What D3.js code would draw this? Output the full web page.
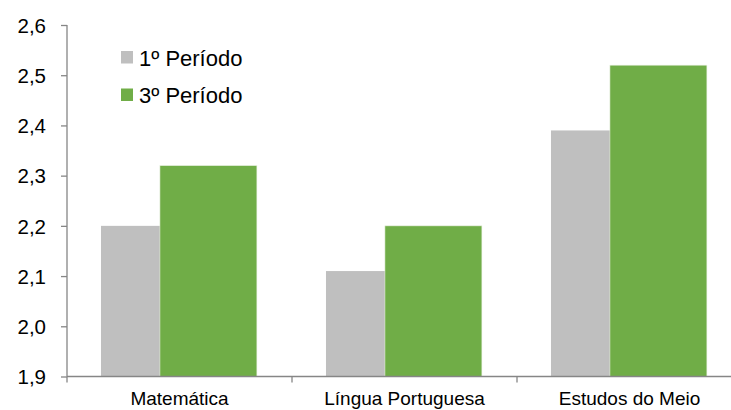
<!DOCTYPE html>
<html>
<head>
<meta charset="utf-8">
<script src="https://cdn.jsdelivr.net/npm/d3@7"></script>
<style>
body { margin: 0; background: #fff; }
svg text { font-family: "Liberation Sans", Arial, sans-serif; fill: #000; }
</style>
</head>
<body>
<svg class="chart" width="731" height="410"></svg>
<script>
// data
var categories = ["Matemática", "Língua Portuguesa", "Estudos do Meio"];
var series = ["1º Período", "3º Período"];
var periodo1 = [2.20, 2.11, 2.39];
var periodo3 = [2.32, 2.20, 2.52];
var yTicks = [1.9, 2.0, 2.1, 2.2, 2.3, 2.4, 2.5, 2.6];
var colors = ["#BFBFBF", "#70AD47"];

var svg = d3.select("svg.chart");
var plotLeft = 67, plotRight = 742, plotTop = 25, plotBottom = 376.5;

var x = d3.scaleBand()
    .domain(categories)
    .range([plotLeft, plotRight])
    .padding(0);

var y = d3.scaleLinear()
    .domain([1.9, 2.6])
    .range([plotBottom, plotTop]);

var bw = x.bandwidth();
var barW = bw * 0.431;
var offsets = [bw * 0.151, bw * 0.413];
var fmt = function(d) { return d3.format(".1f")(d).replace(".", ","); };

// bars, gray first so green overlaps it
[periodo1, periodo3].forEach(function(vals, s) {
    svg.append("g")
        .selectAll("rect")
        .data(vals)
        .enter().append("rect")
        .attr("x", function(d, i) { return x(categories[i]) + offsets[s]; })
        .attr("y", function(d) { return y(d); })
        .attr("width", barW)
        .attr("height", function(d) { return y(1.9) - y(d); })
        .attr("fill", colors[s])
        .attr("stroke", s == 1 ? "#e8f0e0" : "none")
        .attr("stroke-width", 0.6);
});

// y axis
var yAxis = svg.append("g")
    .attr("transform", "translate(" + plotLeft + ",0)")
    .call(d3.axisLeft(y).tickValues(yTicks).tickSize(6).tickPadding(15).tickFormat(fmt));
yAxis.select(".domain").attr("stroke", "#868686").attr("stroke-width", 1.3)
    .attr("d", "M0," + plotTop + "V" + plotBottom);
yAxis.selectAll(".tick line").attr("stroke", "#868686").attr("stroke-width", 1.3);
yAxis.selectAll(".tick text").style("font-size", "20.5px").attr("dy", "0.35em");

// x axis
var xAxis = svg.append("g")
    .attr("transform", "translate(0," + plotBottom + ")")
    .call(d3.axisBottom(x).tickSize(0).tickPadding(15));
xAxis.select(".domain").attr("stroke", "#868686").attr("stroke-width", 1.3)
    .attr("d", "M" + plotLeft + ",0H" + plotRight);
xAxis.selectAll(".tick text").style("font-size", "19px").attr("dy", "0.71em");
xAxis.selectAll(".sep")
    .data(categories.concat(["end"]))
    .enter().append("line")
    .attr("class", "sep")
    .attr("x1", function(d, i) { return plotLeft + i * bw; })
    .attr("x2", function(d, i) { return plotLeft + i * bw; })
    .attr("y1", 0).attr("y2", 6)
    .attr("stroke", "#868686").attr("stroke-width", 1.3);

// legend
var legend = svg.append("g").attr("transform", "translate(121,51)");
var item = legend.selectAll("g")
    .data(series)
    .enter().append("g")
    .attr("transform", function(d, i) { return "translate(0," + i * 37.5 + ")"; });
item.append("rect")
    .attr("width", 12).attr("height", 12.5)
    .attr("fill", function(d, i) { return colors[i]; });
item.append("text")
    .attr("x", 18).attr("y", 7).attr("dy", "0.35em")
    .style("font-size", "22px")
    .text(function(d) { return d; });
</script>
</body>
</html>
